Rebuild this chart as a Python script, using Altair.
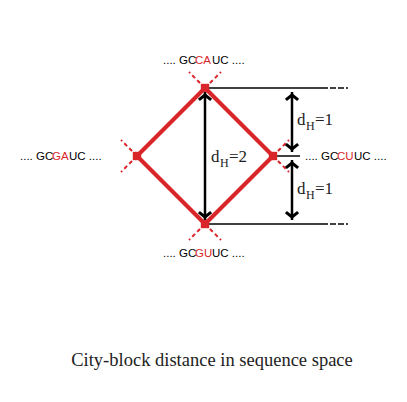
import altair as alt
import pandas as pd

# node positions (picture coordinates)
node_name = ["top", "left", "right", "bottom"]
node_x = [205, 137, 273, 205]
node_y = [88, 156, 156, 224]
RED = "#d9262a"

# diamond edges
edges = [("top", "left"), ("top", "right"), ("left", "bottom"), ("right", "bottom")]
pos = {n: (x, y) for n, x, y in zip(node_name, node_x, node_y)}
edge_df = pd.DataFrame([
    {"x": pos[a][0], "y": pos[a][1], "x2": pos[b][0], "y2": pos[b][1]} for a, b in edges
])

# dashed stubs beyond each node (continuing the edges)
stub = 16
stub_dirs = {"top": [(-1, -1), (1, -1)], "bottom": [(-1, 1), (1, 1)],
             "left": [(-1, -1), (-1, 1)], "right": [(1, -1), (1, 1)]}
stub_df = pd.DataFrame([
    {"x": pos[n][0], "y": pos[n][1], "x2": pos[n][0] + dx * stub, "y2": pos[n][1] + dy * stub}
    for n in node_name for dx, dy in stub_dirs[n]
])

# black reference lines
solid_df = pd.DataFrame({"x": [205, 205, 273], "y": [88, 224, 156],
                         "x2": [322, 322, 300], "y2": [88, 224, 156]})
dash_df = pd.DataFrame({"x": [322, 322], "y": [88, 224], "x2": [348, 348], "y2": [88, 224]})

# double arrows
arrow_df = pd.DataFrame({"x": [205, 292, 292], "y": [92, 92, 160],
                         "x2": [205, 292, 292], "y2": [220, 152, 220]})
head_up = pd.DataFrame({"x": [205, 292, 292], "y": [95, 95, 163]})
head_dn = pd.DataFrame({"x": [205, 292, 292], "y": [217, 149, 217]})

# sequence labels split into coloured pieces
seq_text = [".... GC", "CA", "UC ....",
            ".... GC", "GA", "UC ....",
            ".... GC", "CU", "UC ....",
            ".... GC", "GU", "UC ...."]
seq_x = [163, 195, 212,
         20, 52, 69,
         305, 337, 354,
         163, 195, 212]
seq_y = [61, 61, 61, 157, 157, 157, 157, 157, 157, 254, 254, 254]
seq_col = ["black", RED, "black"] * 4
seq_df = pd.DataFrame({"t": seq_text, "x": seq_x, "y": seq_y, "c": seq_col})

d_df = pd.DataFrame({"t": ["d", "d", "d"], "x": [211, 297, 297], "y": [157, 120, 189]})
h_df = pd.DataFrame({"t": ["H", "H", "H"], "x": [220, 306, 306], "y": [163, 126, 195]})
eq_df = pd.DataFrame({"t": ["=2", "=1", "=1"], "x": [229, 315, 315], "y": [157, 120, 189]})

xs = alt.Scale(domain=[8, 399])
ys = alt.Scale(domain=[8, 394], reverse=True)
X = lambda f="x": alt.X(f"{f}:Q", scale=xs, axis=None)
Y = lambda f="y": alt.Y(f"{f}:Q", scale=ys, axis=None)

def seg(df, **kw):
    return alt.Chart(df).mark_rule(**kw).encode(x=X(), y=Y(), x2="x2:Q", y2="y2:Q")

chev = "M-1,0.8L0,0L1,0.8"
layers = [
    seg(stub_df, color=RED, strokeWidth=2, strokeDash=[4, 3]),
    seg(edge_df, color=RED, strokeWidth=4),
    seg(solid_df, color="black", strokeWidth=1.5),
    seg(dash_df, color="black", strokeWidth=1.5, strokeDash=[6, 2]),
    seg(arrow_df, color="black", strokeWidth=2.5),
    alt.Chart(head_up).mark_point(shape=chev, size=150, filled=False, stroke="black",
                                  strokeWidth=3, opacity=1).encode(x=X(), y=Y()),
    alt.Chart(head_dn).mark_point(shape=chev, size=150, filled=False, stroke="black",
                                  strokeWidth=3, opacity=1, angle=180).encode(x=X(), y=Y()),
    alt.Chart(pd.DataFrame({"x": node_x, "y": node_y})).mark_square(
        size=70, color=RED, opacity=1).encode(x=X(), y=Y()),
    alt.Chart(seq_df).mark_text(align="left", baseline="middle", font="Liberation Sans",
                                fontSize=11.5).encode(
        x=X(), y=Y(), text="t:N", color=alt.Color("c:N", scale=None)),
    alt.Chart(d_df).mark_text(align="left", baseline="middle", font="Liberation Serif",
                              fontSize=17, color="#222").encode(x=X(), y=Y(), text="t:N"),
    alt.Chart(h_df).mark_text(align="left", baseline="middle", font="Liberation Serif",
                              fontSize=12, color="#222").encode(x=X(), y=Y(), text="t:N"),
    alt.Chart(eq_df).mark_text(align="left", baseline="middle", font="Liberation Serif",
                               fontSize=17, color="#222").encode(x=X(), y=Y(), text="t:N"),
    alt.Chart(pd.DataFrame({"t": ["City-block distance in sequence space"], "x": [212], "y": [360]}))
    .mark_text(align="center", baseline="middle", font="Liberation Serif", fontSize=18.5,
               color="#222").encode(x=X(), y=Y(), text="t:N"),
]

chart = alt.layer(*layers).properties(
    width=391, height=386, padding=0, autosize=alt.AutoSizeParams(type="none"),
    background="white",
).configure_view(stroke=None)

chart.save("out.html", embed_options={"renderer": "svg", "actions": False})
